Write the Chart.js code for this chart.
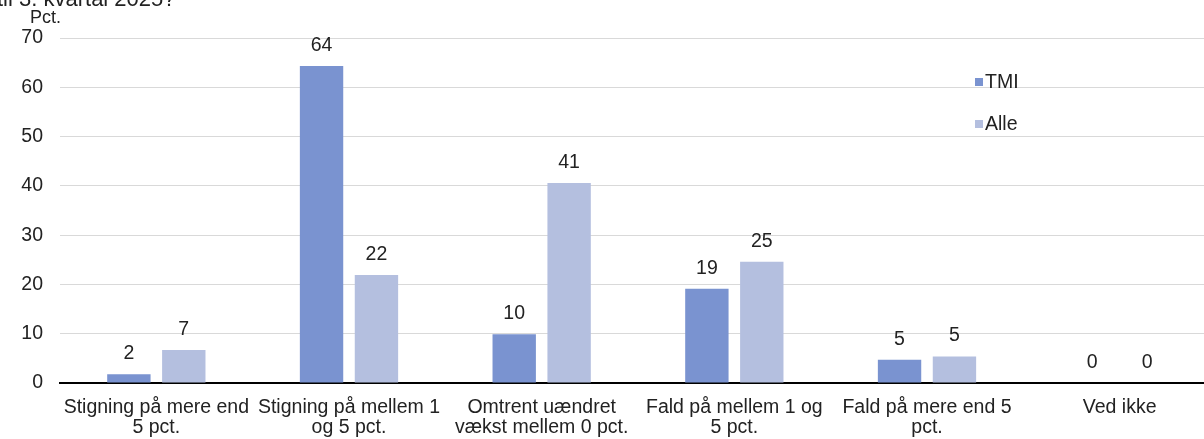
<!DOCTYPE html>
<html>
<head>
<meta charset="utf-8">
<script src="https://cdn.jsdelivr.net/npm/chart.js@4.4.1/dist/chart.umd.min.js"></script>
<style>
  html, body { margin: 0; padding: 0; background: #fff; overflow: hidden; width: 1204px; height: 439px; }
  #wrap { position: relative; width: 1204px; height: 439px; overflow: hidden; }
  #chart { position: absolute; left: 0; top: 0; }
  .txt { position: absolute; font-family: "Liberation Sans", Arial, sans-serif; color: #222; white-space: nowrap; }
</style>
</head>
<body>
<div id="wrap">
  <canvas id="chart" width="1220" height="439"></canvas>
  <div class="txt" style="left:-3px; top:-14px; font-size:22px;">til 3. kvartal 2025?</div>
  <div class="txt" style="left:30px; top:7px; font-size:18px;">Pct.</div>
</div>
<script>
const categories = [
    ["Stigning på mere end", "5 pct."],
    ["Stigning på mellem 1", "og 5 pct."],
    ["Omtrent uændret", "vækst mellem 0 pct."],
    ["Fald på mellem 1 og", "5 pct."],
    ["Fald på mere end 5", "pct."],
    ["Ved ikke"]
];
const tmiValues = [1.8, 64.3, 9.9, 19.1, 4.7, 0];
const alleValues = [6.7, 21.9, 40.6, 24.6, 5.4, 0];
const yTicks = [0, 10, 20, 30, 40, 50, 60, 70];

const tmiColor = "rgb(122,147,208)";
const alleColor = "rgb(180,191,223)";
const font = "Liberation Sans, Arial, sans-serif";
const fontSize = 19.5;

// value labels above each bar
const valueLabels = {
    id: "valueLabels",
    afterDatasetsDraw(chart) {
        const ctx = chart.ctx;
        ctx.save();
        ctx.font = fontSize + "px " + font;
        ctx.fillStyle = "#222";
        ctx.textAlign = "center";
        ctx.textBaseline = "alphabetic";
        chart.data.datasets.forEach((ds, i) => {
            chart.getDatasetMeta(i).data.forEach((bar, j) => {
                ctx.fillText(Math.round(ds.data[j]), bar.x, bar.y - 15);
            });
        });
        ctx.restore();
    }
};

// legend inside the plot, stacked vertically
const innerLegend = {
    id: "innerLegend",
    afterDraw(chart) {
        const ctx = chart.ctx;
        ctx.save();
        ctx.font = fontSize + "px " + font;
        ctx.textBaseline = "middle";
        chart.data.datasets.forEach((ds, i) => {
            const y = 82 + i * 42;
            ctx.fillStyle = ds.backgroundColor;
            ctx.fillRect(975, y - 4, 8, 8);
            ctx.fillStyle = "#222";
            ctx.fillText(ds.label, 985, y + 1);
        });
        ctx.restore();
    }
};

new Chart(document.getElementById("chart"), {
    type: "bar",
    data: {
        labels: categories,
        datasets: [
            { label: "TMI", data: tmiValues, backgroundColor: tmiColor },
            { label: "Alle", data: alleValues, backgroundColor: alleColor }
        ]
    },
    options: {
        responsive: false,
        animation: false,
        devicePixelRatio: 1,
        categoryPercentage: 0.57,
        barPercentage: 0.79,
        layout: { padding: { top: 38, right: 4, bottom: 0, left: 0 } },
        plugins: {
            legend: { display: false },
            tooltip: { enabled: false }
        },
        scales: {
            x: {
                afterFit(axis) { axis.height = 56; },
                grid: { display: false, drawTicks: false },
                border: { color: "#000", width: 2 },
                ticks: {
                    color: "#222",
                    font: { family: font, size: fontSize, lineHeight: 1.05 },
                    padding: 14,
                    maxRotation: 0,
                    autoSkip: false
                }
            },
            y: {
                min: 0,
                max: 70,
                afterBuildTicks(axis) {
                    axis.ticks = yTicks.map(v => ({ value: v }));
                },
                afterFit(axis) { axis.width = 60; },
                grid: { color: "#d9d9d9", drawTicks: false },
                border: { display: false },
                ticks: {
                    color: "#222",
                    font: { family: font, size: fontSize },
                    padding: 17
                }
            }
        }
    },
    plugins: [valueLabels, innerLegend]
});
</script>
</body>
</html>
